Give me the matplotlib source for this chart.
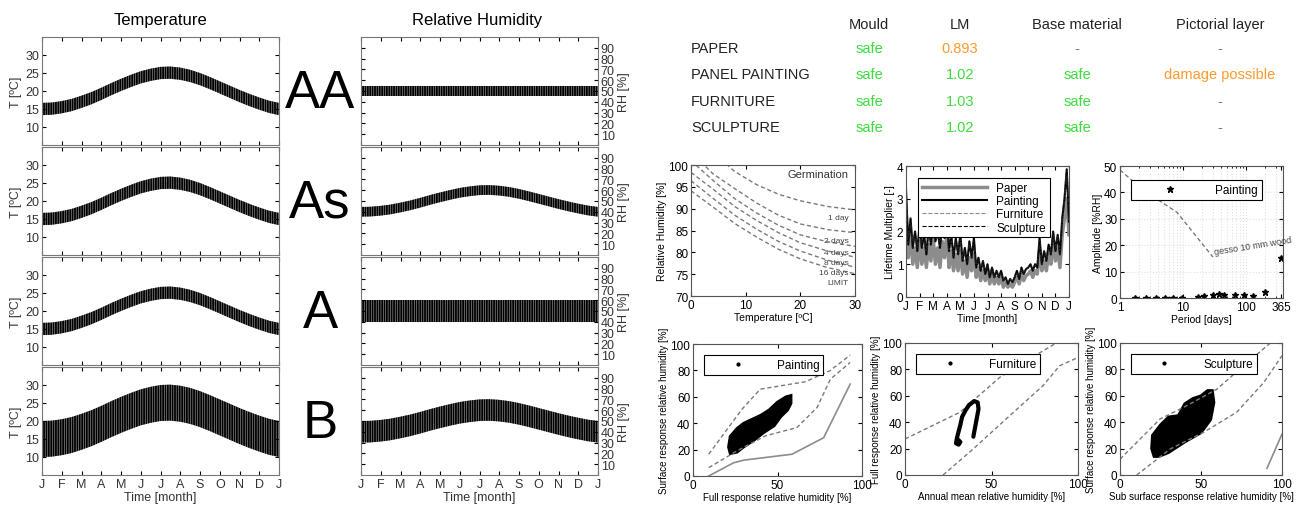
import numpy as np
import matplotlib
matplotlib.use('Agg')
import matplotlib.pyplot as plt
from matplotlib.lines import Line2D

plt.rcParams['font.family'] = ['Liberation Sans', 'DejaVu Sans']
plt.rcParams['hatch.linewidth'] = 1.3

W, H = 1309, 506

# ------------------------------------------------------------------ data --
month_letters = ['J', 'F', 'M', 'A', 'M', 'J', 'J', 'A', 'S', 'O', 'N', 'D', 'J']
half_months = np.arange(0, 12.5, 0.5)

# seasonal course of the indoor climate (values every half month)
t_seasonal = [15.0, 15.1, 15.5, 16.1, 17.0, 18.0, 19.2, 20.5, 21.7, 22.8, 23.8, 24.5, 25.0,
              25.1, 24.8, 24.2, 23.3, 22.2, 21.0, 19.8, 18.6, 17.5, 16.5, 15.6, 15.0]
rh_seasonal = [40.0, 40.2, 41.0, 42.2, 44.0, 46.0, 48.4, 51.0, 53.4, 55.6, 57.6, 59.0, 60.0,
               60.2, 59.6, 58.4, 56.6, 54.4, 52.0, 49.6, 47.2, 45.0, 43.0, 41.2, 40.0]
climate_classes = ['AA', 'As', 'A', 'B']
t_swing = [1.7, 1.7, 1.7, 5.0]
rh_seasonal_on = [False, True, False, True]
rh_set_point = 50.0
rh_swing = [5.0, 4.5, 10.0, 10.0]

# risk table
objects = ['PAPER', 'PANEL PAINTING', 'FURNITURE', 'SCULPTURE']
table_columns = ['Mould', 'LM', 'Base material', 'Pictorial layer']
mould = ['safe', 'safe', 'safe', 'safe']
lm_values = [0.893, 1.02, 1.03, 1.02]
base_material = ['-', 'safe', 'safe', 'safe']
pictorial_layer = ['-', 'damage possible', '-', '-']

# germination isopleths
germ_t = [0, 4, 8, 12, 16, 20, 25, 30]
germ_curves = {
    '1 day':   [110.0, 103.0, 98.5, 95.5, 93.3, 91.8, 90.5, 89.7],
    '2 days':  [103.0, 98.0, 94.6, 91.3, 88.5, 86.5, 85.2, 84.5],
    '4 days':  [101.0, 96.5, 92.3, 89.0, 86.2, 84.0, 82.4, 81.4],
    '8 days':  [98.3, 94.5, 90.5, 87.3, 84.5, 82.2, 80.3, 78.9],
    '16 days': [96.4, 92.4, 88.5, 85.3, 82.5, 80.3, 78.2, 76.6],
    'LIMIT':   [94.1, 90.4, 86.6, 83.5, 80.7, 78.5, 76.5, 75.1],
}
germ_label_rh = [88.0, 82.6, 79.9, 77.6, 75.4, 73.0]

# lifetime multiplier (every 1/6 month)
lm_time = np.linspace(0, 12, 73)
lm_painting = [3.3, 1.6, 2.4, 1.5, 2.0, 1.4,
               2.2, 1.5, 1.9, 1.3, 2.1, 1.6,
               2.4, 1.7, 2.0, 1.5, 2.2, 1.8,
               2.5, 1.4, 1.9, 1.2, 1.8, 1.3,
               1.9, 1.1, 1.5, 1.0, 1.7, 1.2,
               1.8, 0.9, 1.2, 0.8, 1.1, 0.7,
               1.0, 0.6, 0.9, 0.6, 0.8, 0.6,
               0.8, 0.5, 0.6, 0.4, 0.55, 0.45,
               0.6, 0.8, 0.55, 0.9, 0.7, 0.85,
               0.9, 1.0, 0.8, 1.0, 0.9, 1.8,
               1.0, 1.4, 1.1, 1.6, 1.3, 2.0,
               1.4, 1.9, 1.3, 2.4, 3.0, 3.9, 2.3]
lm_paper = [2.6, 1.2, 1.9, 1.0, 1.5, 0.9,
            1.7, 1.0, 1.5, 0.9, 1.6, 1.1,
            1.8, 1.0, 1.5, 0.9, 1.7, 1.2,
            1.9, 0.9, 1.4, 0.8, 1.3, 0.8,
            1.4, 0.7, 1.1, 0.6, 1.2, 0.8,
            1.3, 0.6, 0.9, 0.5, 0.8, 0.5,
            0.8, 0.4, 0.7, 0.4, 0.6, 0.4,
            0.6, 0.3, 0.45, 0.3, 0.4, 0.3,
            0.45, 0.6, 0.4, 0.7, 0.5, 0.65,
            0.7, 0.8, 0.6, 0.8, 0.7, 1.4,
            0.8, 1.1, 0.8, 1.3, 1.0, 1.6,
            1.1, 1.5, 0.9, 1.9, 2.4, 3.0, 1.9]

# fluctuation amplitude vs period
period_days = [1.73, 2.55, 3.7, 5.2, 7.0, 9.5, 17.5, 21.5, 29.6, 37.7, 45, 67, 93, 131, 200, 365]
amplitude = [0.1, 0.1, 0.1, 0.1, 0.1, 0.1, 0.5, 0.9, 1.1, 1.6, 1.2, 1.1, 1.2, 0.9, 2.4, 15.1]
gesso_period = [1.0, 2.3, 8.0, 30.0]
gesso_amp = [48.5, 41.0, 32.5, 15.5]

# response plots: limit lines
pnt_upper_x = [9.3, 29, 39.8, 66.5, 81, 93]
pnt_upper_y = [16.5, 50.6, 65.8, 71.4, 79.7, 91.6]
pnt_lower_x = [9.3, 26, 42.8, 61.5, 73.4, 81.3, 93]
pnt_lower_y = [6.3, 19, 30.4, 36.7, 51.9, 73.4, 86]
pnt_solid_x = [9.3, 24, 30, 58.6, 77.3, 93]
pnt_solid_y = [0, 10, 12, 16.5, 29, 69.6]
pnt_blob_x = [22, 26, 30, 36, 42, 48, 52, 56, 58, 58, 55, 50, 45, 40, 35, 30, 26, 22, 21]
pnt_blob_y = [17, 18, 22, 27, 33, 38, 45, 50, 55, 61, 60, 56, 50, 46, 43, 40, 36, 30, 22]

fur_upper_x = [0, 31.7, 54.8, 70.2, 87.5]
fur_upper_y = [27.3, 47.5, 74, 86.6, 100]
fur_lower_x = [22, 39.4, 60.6, 79.8, 89.4, 100]
fur_lower_y = [0, 19.7, 45, 67.7, 82.8, 89]
fur_loop_x = [39.5, 40.5, 41.5, 42.5, 42, 40, 37, 35, 33, 32, 31, 30, 29.5, 31, 32, 30.5]
fur_loop_y = [29, 36, 43, 50, 55, 56, 53, 49, 44, 38, 33, 28, 24, 23, 25, 27]

scu_upper_x = [0, 24.7, 41.2, 59.8, 76.3, 92.8]
scu_upper_y = [12, 42.4, 52.5, 65, 82.8, 100]
scu_lower_x = [10.3, 31, 51.5, 72, 88.7, 100]
scu_lower_y = [0, 19.7, 32.3, 47.5, 70, 90.4]
scu_solid_x = [90.7, 100]
scu_solid_y = [5, 31]
scu_blob_x = [21, 24, 30, 40, 50, 56, 58, 57, 54, 50, 45, 40, 36, 30, 25, 20, 19.5]
scu_blob_y = [14, 14, 17, 25, 32, 42, 55, 64, 64, 60, 58, 54, 45, 44, 38, 30, 20]

GREEN = '#3ddc3d'
ORANGE = '#ff9a2e'
DASH = '#7a7a7a'

fig = plt.figure(figsize=(W / 100, H / 100), dpi=100)


def px_axes(l, t, r, b):
    return fig.add_axes([l / W, 1 - b / H, (r - l) / W, (b - t) / H])


def small_style(ax):
    ax.tick_params(direction='in', top=True, right=True, length=3, labelsize=8.5, pad=2)
    for s in ax.spines.values():
        s.set_color('#555555')


# ----------------------------------------------------- left: climate panels --
row_tops = [38, 148, 258, 368]
row_h = 108
for i, cls in enumerate(climate_classes):
    top = row_tops[i]
    t_ax = px_axes(42, top, 279, top + row_h)
    rh_ax = px_axes(361, top, 598, top + row_h)

    t_mean = np.asarray(t_seasonal)
    t_ax.fill_between(half_months, t_mean - t_swing[i], t_mean + t_swing[i],
                      facecolor='#a5a5a5', edgecolor='black', hatch='|||||||', linewidth=0)
    if rh_seasonal_on[i]:
        rh_mean = np.asarray(rh_seasonal)
    else:
        rh_mean = np.full(len(half_months), rh_set_point)
    rh_ax.fill_between(half_months, rh_mean - rh_swing[i], rh_mean + rh_swing[i],
                       facecolor='#a5a5a5', edgecolor='black', hatch='|||||||', linewidth=0)

    t_ax.set_ylim(5, 35)
    t_ax.set_yticks([10, 15, 20, 25, 30])
    t_ax.set_ylabel('T [ºC]', fontsize=9, color='#333333', labelpad=2)
    rh_ax.set_ylim(0, 100)
    rh_ax.set_yticks(range(10, 100, 10))
    rh_ax.yaxis.tick_right()
    rh_ax.yaxis.set_label_position('right')
    rh_ax.set_ylabel('RH [%]', fontsize=9, color='#333333', labelpad=2)

    for ax in (t_ax, rh_ax):
        ax.set_xlim(0, 12)
        ax.set_xticks(range(13))
        ax.tick_params(direction='in', top=True, left=True, right=True, length=3,
                       labelsize=9, labelcolor='#333333', pad=2)
        for s in ax.spines.values():
            s.set_color('#777777')
        if i == 3:
            ax.set_xticklabels(month_letters)
            ax.set_xlabel('Time [month]', fontsize=9, color='#333333', labelpad=1)
        else:
            ax.set_xticklabels([])
    t_ax.tick_params(labelright=False)
    rh_ax.tick_params(labelleft=False, labelright=True)

    fig.text(320 / W, 1 - (top + row_h / 2 + 2) / H, cls, fontsize=38,
             ha='center', va='center')

fig.text(160 / W, 1 - 21 / H, 'Temperature', fontsize=12, ha='center', va='center')
fig.text(477 / W, 1 - 21 / H, 'Relative Humidity', fontsize=12, ha='center', va='center')

# ------------------------------------------------------------- risk table --
col_x = [869, 960, 1077, 1220]
row_y = [49, 75, 102, 128]
for cx, name in zip(col_x, table_columns):
    fig.text(cx / W, 1 - 25 / H, name, fontsize=10.5, ha='center', va='center', color='#222222')


def cell_color(txt):
    if txt == 'safe':
        return GREEN
    if txt == '-':
        return '#777777'
    return ORANGE


for j, obj in enumerate(objects):
    y = 1 - row_y[j] / H
    fig.text(691 / W, y, obj, fontsize=10.5, ha='left', va='center', color='#222222')
    fig.text(col_x[0] / W, y, mould[j], fontsize=10.5, ha='center', va='center',
             color=cell_color(mould[j]))
    lm_txt = ('%.3f' % lm_values[j]) if lm_values[j] < 1 else ('%.2f' % lm_values[j])
    fig.text(col_x[1] / W, y, lm_txt, fontsize=10.5, ha='center', va='center',
             color=ORANGE if lm_values[j] < 1 else GREEN)
    fig.text(col_x[2] / W, y, base_material[j], fontsize=10.5, ha='center', va='center',
             color=cell_color(base_material[j]))
    fig.text(col_x[3] / W, y, pictorial_layer[j], fontsize=10.5, ha='center', va='center',
             color=cell_color(pictorial_layer[j]))

# -------------------------------------------------------------- germination --
ax = px_axes(691, 166, 855, 297)
for (name, vals), ly in zip(germ_curves.items(), germ_label_rh):
    ax.plot(germ_t, vals, ls='--', color=DASH, lw=1.0, dashes=(3, 2))
    ax.text(28.8, ly, name, fontsize=6, ha='right', va='center', color='#444444')
ax.text(28.8, 98, 'Germination', fontsize=8, ha='right', va='center', color='#333333')
ax.set_xlim(0, 30)
ax.set_ylim(70, 100)
ax.set_xticks([0, 10, 20, 30])
ax.set_yticks(range(70, 101, 5))
ax.set_xlabel('Temperature [ºC]', fontsize=7.5, labelpad=1)
ax.set_ylabel('Relative Humidity [%]', fontsize=7.5, labelpad=1)
small_style(ax)

# ------------------------------------------------------- lifetime multiplier --
ax = px_axes(906, 167, 1069, 298)
ax.plot(lm_time, lm_paper, color='#8c8c8c', lw=2.5, label='Paper')
ax.plot(lm_time, lm_painting, color='black', lw=1.5, label='Painting')
ax.plot(lm_time, lm_painting, color='#8c8c8c', lw=0.8, ls='--', label='Furniture')
ax.plot(lm_time, lm_painting, color='black', lw=0.8, ls='--', label='Sculpture')
ax.set_xlim(0, 12)
ax.set_ylim(0, 4)
ax.set_xticks(range(13))
ax.set_xticklabels(month_letters)
ax.set_yticks([0, 1, 2, 3, 4])
ax.set_xlabel('Time [month]', fontsize=7.5, labelpad=1)
ax.set_ylabel('Lifetime Multiplier [-]', fontsize=7.5, labelpad=1)
leg = ax.legend(loc='upper left', fontsize=8.5, fancybox=False, edgecolor='black',
                handlelength=5.5, borderpad=0.3, labelspacing=0.1, framealpha=1,
                bbox_to_anchor=(0.04, 0.95))
leg.get_frame().set_linewidth(0.8)
small_style(ax)

# ----------------------------------------------------------------- amplitude --
ax = px_axes(1120, 167, 1283, 299)
ax.plot(gesso_period, gesso_amp, ls='--', color=DASH, lw=1.0, dashes=(3, 2))
ax.text(31, 15.8, 'gesso 10 mm wood', fontsize=6.5, rotation=9, ha='left', va='bottom',
        color='#444444')
ax.plot(period_days, amplitude, ls='none', marker='*', color='black', ms=5, label='Painting')
ax.set_xscale('log')
ax.set_xlim(1, 390)
ax.set_ylim(0, 50)
ax.set_xticks([1, 10, 100, 365])
ax.set_xticklabels(['1', '10', '100', '365'])
ax.set_yticks(range(0, 51, 10))
ax.grid(True, which='both', ls=':', color='#e2e2e2', lw=0.8)
ax.set_xlabel('Period [days]', fontsize=7.5, labelpad=1)
ax.set_ylabel('Amplitude [%RH]', fontsize=7.5, labelpad=1)
leg = ax.legend(loc='upper left', fontsize=8.5, fancybox=False, edgecolor='black',
                handlelength=6, borderpad=0.35, framealpha=1, bbox_to_anchor=(0.03, 0.94))
leg.get_frame().set_linewidth(0.8)
small_style(ax)
ax.tick_params(which='minor', direction='in', top=True, length=1.5)

# ----------------------------------------------------------- response plots --
resp = [
    ((693, 345, 862, 477), 'Painting', (pnt_upper_x, pnt_upper_y), (pnt_lower_x, pnt_lower_y),
     (pnt_solid_x, pnt_solid_y), (pnt_blob_x, pnt_blob_y), 'fill',
     'Full response relative humidity [%]', 'Surface response relative humidity [%]'),
    ((905, 344, 1078, 476), 'Furniture', (fur_upper_x, fur_upper_y), (fur_lower_x, fur_lower_y),
     None, (fur_loop_x, fur_loop_y), 'line',
     'Annual mean relative humidity [%]', 'Full response relative humidity [%]'),
    ((1120, 344, 1282, 476), 'Sculpture', (scu_upper_x, scu_upper_y), (scu_lower_x, scu_lower_y),
     (scu_solid_x, scu_solid_y), (scu_blob_x, scu_blob_y), 'fill',
     'Sub surface response relative humidity [%]', 'Surface response relative humidity [%]'),
]
for box, name, up, lo, solid, blob, kind, xl, yl in resp:
    ax = px_axes(*box)
    ax.plot(up[0], up[1], ls='--', color=DASH, lw=1.0, dashes=(3, 2))
    ax.plot(lo[0], lo[1], ls='--', color=DASH, lw=1.0, dashes=(3, 2))
    if solid is not None:
        ax.plot(solid[0], solid[1], color='#8c8c8c', lw=1.2)
    if kind == 'fill':
        ax.fill(blob[0], blob[1], color='black', lw=2)
    else:
        ax.plot(blob[0], blob[1], color='black', lw=3, solid_capstyle='round')
    ax.set_xlim(0, 100)
    ax.set_ylim(0, 100)
    ax.set_xticks([0, 50, 100])
    ax.set_yticks(range(0, 101, 20))
    ax.set_xlabel(xl, fontsize=7, labelpad=1)
    ax.set_ylabel(yl, fontsize=7, labelpad=1)
    handle = Line2D([], [], ls='none', marker='.', color='black', ms=4)
    leg = ax.legend([handle], [name], loc='upper left', fontsize=8.5, fancybox=False,
                    edgecolor='black', handlelength=5, borderpad=0.35, framealpha=1,
                    bbox_to_anchor=(0.03, 0.96))
    leg.get_frame().set_linewidth(0.8)
    small_style(ax)

fig.savefig('out.png', dpi=100)
